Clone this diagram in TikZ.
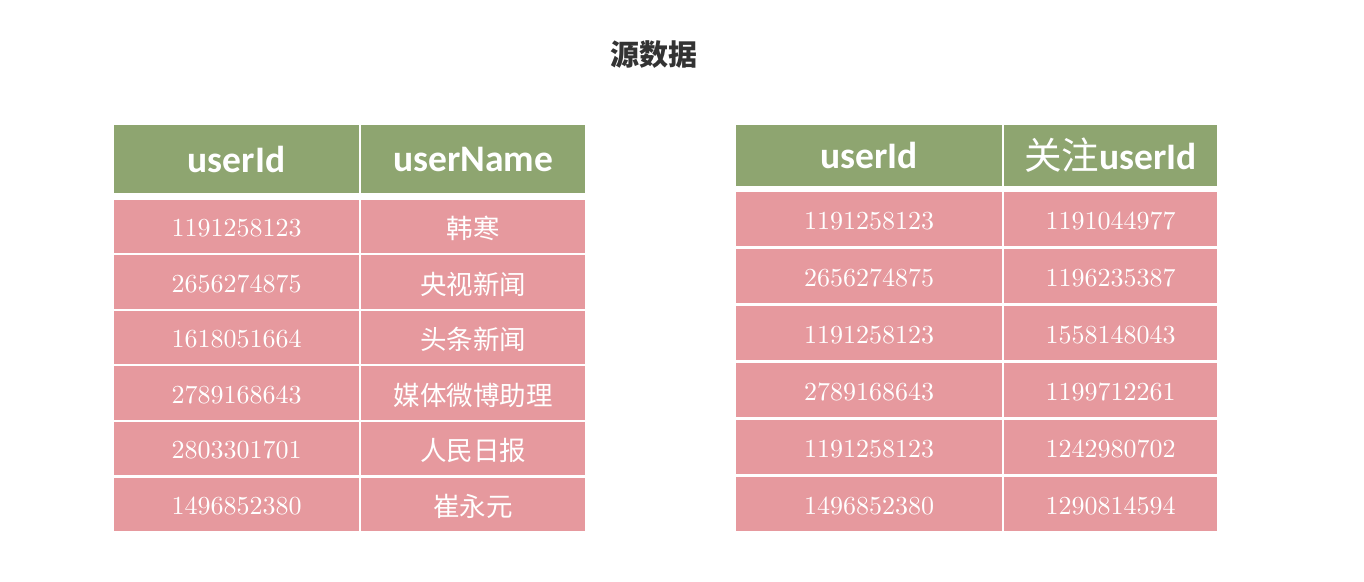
\documentclass[tikz,border=0pt]{standalone}
\usepackage{fontspec}
\newfontfamily\hdrfont{Carlito}
\newfontfamily\cjk{Noto Sans CJK SC}
\newfontfamily\numfont{lmroman10-regular}[Extension=.otf]
\definecolor{hdrgreen}{RGB}{142,165,112}
\definecolor{cellpink}{RGB}{230,153,158}
\definecolor{titlegray}{RGB}{51,51,51}
\begin{document}
\begin{tikzpicture}[x=1pt,y=-1pt,
  box/.style={inner sep=0pt,outer sep=0pt,anchor=north west,text=white,align=center},
  hdr/.style={box,fill=hdrgreen,font=\hdrfont\bfseries\fontsize{37.5}{40}\selectfont},
  cell/.style={box,fill=cellpink,font=\numfont\fontsize{26}{30}\selectfont,text height=20.5pt,text depth=0pt},
  cjkcell/.style={box,fill=cellpink,font=\cjk\fontsize{26.5}{30}\selectfont,text height=25pt,text depth=0.5pt},
  lc1/.style={minimum width=245pt},
  lc2/.style={minimum width=224pt},
  rc1/.style={minimum width=266pt},
  rc2/.style={minimum width=213pt},
  lrow/.style={minimum height=53.5pt},
  rrow/.style={minimum height=54.5pt}]
\useasboundingbox (0,0) rectangle (1364,581);
\node[font=\cjk\bfseries\fontsize{29}{34}\selectfont,text=titlegray] (title) at (654,55) {源数据};
% left table
\node[hdr,lc1,minimum height=68pt] (lh1) at (114,125) {userId};
\node[hdr,lc2,minimum height=68pt] (lh2) at (361,125) {userName};
\node[cell,lc1,lrow] (l11) at (114,199.5) {1191258123};
\node[cjkcell,lc2,lrow] (l12) at (361,199.5) {韩寒};
\node[cell,lc1,lrow] (l21) at (114,255.1) {2656274875};
\node[cjkcell,lc2,lrow] (l22) at (361,255.1) {央视新闻};
\node[cell,lc1,lrow] (l31) at (114,310.7) {1618051664};
\node[cjkcell,lc2,lrow] (l32) at (361,310.7) {头条新闻};
\node[cell,lc1,lrow] (l41) at (114,366.3) {2789168643};
\node[cjkcell,lc2,lrow] (l42) at (361,366.3) {媒体微博助理};
\node[cell,lc1,lrow] (l51) at (114,421.9) {2803301701};
\node[cjkcell,lc2,lrow] (l52) at (361,421.9) {人民日报};
\node[cell,lc1,lrow] (l61) at (114,477.5) {1496852380};
\node[cjkcell,lc2,lrow] (l62) at (361,477.5) {崔永元};
% right table
\node[hdr,rc1,minimum height=61pt] (rh1) at (736,125) {userId};
\node[hdr,rc2,minimum height=61pt] (rh2) at (1004,125) {{\cjk\mdseries 关注}userId};
\node[cell,rc1,rrow] (r11) at (736,191.5) {1191258123};
\node[cell,rc2,rrow] (r12) at (1004,191.5) {1191044977};
\node[cell,rc1,rrow] (r21) at (736,248.5) {2656274875};
\node[cell,rc2,rrow] (r22) at (1004,248.5) {1196235387};
\node[cell,rc1,rrow] (r31) at (736,305.5) {1191258123};
\node[cell,rc2,rrow] (r32) at (1004,305.5) {1558148043};
\node[cell,rc1,rrow] (r41) at (736,362.5) {2789168643};
\node[cell,rc2,rrow] (r42) at (1004,362.5) {1199712261};
\node[cell,rc1,rrow] (r51) at (736,419.5) {1191258123};
\node[cell,rc2,rrow] (r52) at (1004,419.5) {1242980702};
\node[cell,rc1,rrow] (r61) at (736,476.5) {1496852380};
\node[cell,rc2,rrow] (r62) at (1004,476.5) {1290814594};
\end{tikzpicture}
\end{document}
